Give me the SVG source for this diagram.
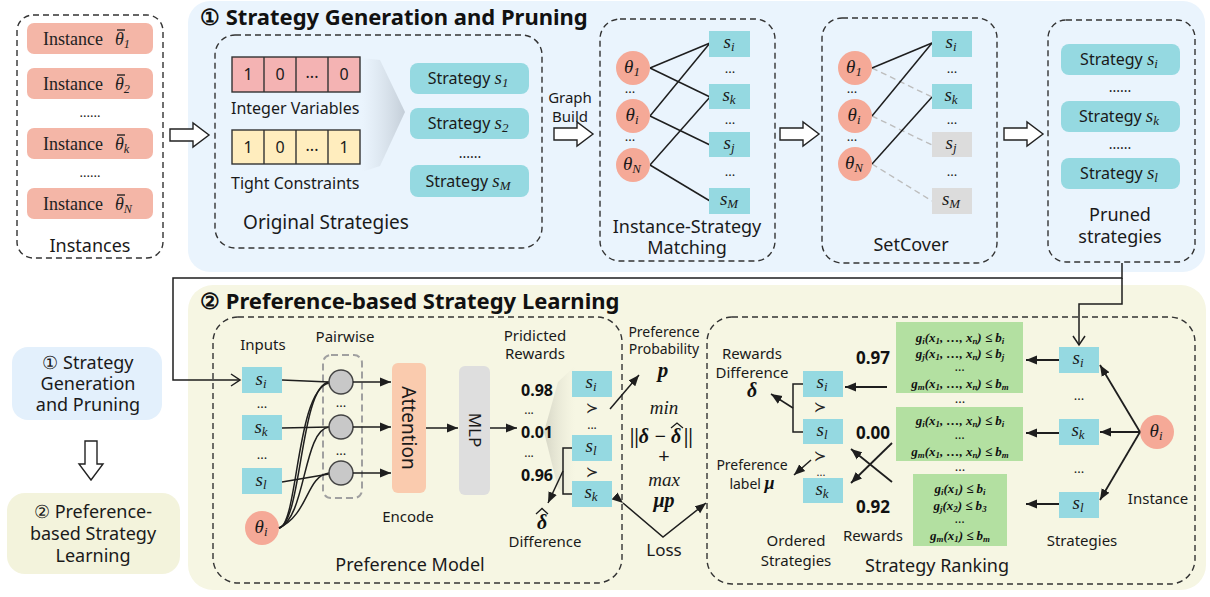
<svg xmlns="http://www.w3.org/2000/svg" width="1210" height="597" viewBox="0 0 1210 597">
  <defs>
    <style>
      .t { font-family: "Noto Sans", "Open Sans", sans-serif; fill: #1a1a1a; }
      .tb { font-family: "Noto Sans", "Open Sans", sans-serif; font-weight: bold; fill: #111; }
      .m { font-family: "Liberation Serif", "DejaVu Serif", serif; font-style: italic; fill: #1a1a1a; }
      .mb { font-family: "Liberation Serif", "DejaVu Serif", serif; font-style: italic; font-weight: bold; fill: #111; }
      .sub { font-size: 68%; baseline-shift: -22%; }
      .dash { fill: none; stroke: #333; stroke-width: 1.4; stroke-dasharray: 6 4; }
      .inst { fill: #F4B6A7; }
      .circ { fill: #F5A997; }
      .cyan { fill: #95D9E1; }
      .grey { fill: #DCDCDC; }
      .green { fill: #B3E0A1; }
      .ln { fill: none; stroke: #1e1e1e; stroke-width: 1.5; }
      .lnd { fill: none; stroke: #bdbdbd; stroke-width: 1.4; stroke-dasharray: 6 4; }
      .hollow { fill: #fff; stroke: #222; stroke-width: 1.4; }
      .accent { fill: none; stroke: #1a1a1a; stroke-width: 1.3; }
    </style>
    <marker id="ahFill" markerUnits="userSpaceOnUse" markerWidth="12" markerHeight="10" refX="11" refY="5" orient="auto">
      <path d="M0,0.5 L11,5 L0,9.5 Z" fill="#1e1e1e"/>
    </marker>
    <marker id="ahOpen" markerUnits="userSpaceOnUse" markerWidth="12" markerHeight="14" refX="10" refY="7" orient="auto">
      <path d="M1,1 L10,7 L1,13" fill="none" stroke="#1e1e1e" stroke-width="1.5"/>
    </marker>
    <path id="hollowR" d="M0,-6 H23 V-12 L39,0 L23,12 V6 H0 Z"/>
    <linearGradient id="fanTop" x1="0" y1="0" x2="1" y2="0">
      <stop offset="0" stop-color="#d4dde6" stop-opacity="0"/>
      <stop offset="1" stop-color="#c4ced8"/>
    </linearGradient>
    <linearGradient id="fanBot" x1="0" y1="0" x2="1" y2="0">
      <stop offset="0" stop-color="#d6d6c6"/>
      <stop offset="1" stop-color="#e8e8d6" stop-opacity="0"/>
    </linearGradient>
  </defs>

  <rect width="1210" height="597" fill="#ffffff"/>

  <!-- stage panels -->
  <g id="panel-stage1">
    <rect x="188" y="1" width="1017" height="271" rx="22" fill="#EAF4FD"/>
    <text class="tb" x="200" y="25" font-size="22">① Strategy Generation and Pruning</text>
  </g>
  <g id="panel-stage2">
    <rect x="188" y="285" width="1018" height="305" rx="25" fill="#F6F6E3"/>
    <text class="tb" x="200" y="309" font-size="22">② Preference-based Strategy Learning</text>
  </g>

  <!-- legend on the left -->
  <g id="legend-stage1">
    <rect x="12" y="347" width="150" height="73" rx="16" fill="#E3F0FC"/>
    <text class="t" font-size="18" text-anchor="middle"><tspan x="88" y="369">① Strategy</tspan><tspan x="88" y="390">Generation</tspan><tspan x="88" y="411">and Pruning</tspan></text>
  </g>
  <g id="legend-stage2">
    <rect x="7" y="493" width="173" height="81" rx="18" fill="#F3F3DC"/>
    <text class="t" font-size="18" text-anchor="middle"><tspan x="93" y="518">② Preference-</tspan><tspan x="93" y="540">based Strategy</tspan><tspan x="93" y="562">Learning</tspan></text>
  </g>

  <!-- instances -->
  <g id="instances">
    <rect class="dash" x="17" y="15" width="146" height="243" rx="16"/>
    <rect class="inst" x="27" y="23" width="126" height="31" rx="7"/>
    <rect class="inst" x="27" y="68" width="126" height="31" rx="7"/>
    <rect class="inst" x="27" y="128" width="126" height="31" rx="7"/>
    <rect class="inst" x="27" y="188" width="126" height="31" rx="7"/>
    <g font-family="Liberation Serif, serif" font-size="18" fill="#222">
      <text x="43" y="45">Instance</text>
      <text x="43" y="90">Instance</text>
      <text x="43" y="150">Instance</text>
      <text x="43" y="210">Instance</text>
      <text x="115" y="45" font-style="italic">θ<tspan class="sub">1</tspan></text>
      <text x="115" y="90" font-style="italic">θ<tspan class="sub">2</tspan></text>
      <text x="115" y="150" font-style="italic">θ<tspan class="sub">k</tspan></text>
      <text x="115" y="210" font-style="italic">θ<tspan class="sub">N</tspan></text>
      <text x="90" y="117" text-anchor="middle" font-size="14">......</text>
      <text x="90" y="177" text-anchor="middle" font-size="14">......</text>
    </g>
    <g class="accent">
      <line x1="117" y1="30" x2="125" y2="30"/>
      <line x1="117" y1="75" x2="125" y2="75"/>
      <line x1="117" y1="135" x2="125" y2="135"/>
      <line x1="117" y1="195" x2="125" y2="195"/>
    </g>
    <text class="t" x="90" y="252" font-size="18" text-anchor="middle">Instances</text>
  </g>

  <!-- original strategies -->
  <g id="original-strategies">
    <rect class="dash" x="215" y="35" width="327" height="213" rx="20"/>
    <polygon points="362,58 380,60 405,112 380,166 362,172" fill="url(#fanTop)"/>
    <g stroke="#333" stroke-width="1.4">
      <rect x="232" y="57" width="128" height="35" fill="#F4B3B3"/>
      <line x1="264" y1="57" x2="264" y2="92"/><line x1="296" y1="57" x2="296" y2="92"/><line x1="328" y1="57" x2="328" y2="92"/>
      <rect x="232" y="130" width="128" height="34" fill="#FFEDBE"/>
      <line x1="264" y1="130" x2="264" y2="164"/><line x1="296" y1="130" x2="296" y2="164"/><line x1="328" y1="130" x2="328" y2="164"/>
    </g>
    <g class="t" font-size="16" text-anchor="middle">
      <text x="248" y="80">1</text><text x="280" y="80">0</text><text x="312" y="78">...</text><text x="344" y="80">0</text>
      <text x="248" y="153">1</text><text x="280" y="153">0</text><text x="312" y="151">...</text><text x="344" y="153">1</text>
    </g>
    <text class="t" x="231" y="114" font-size="16">Integer Variables</text>
    <text class="t" x="231" y="189" font-size="16">Tight Constraints</text>
    <rect class="cyan" x="410" y="63" width="119" height="31" rx="8"/>
    <rect class="cyan" x="410" y="108" width="119" height="31" rx="8"/>
    <rect class="cyan" x="410" y="165" width="119" height="32" rx="8"/>
    <g class="t" font-size="16" text-anchor="middle">
      <text x="468" y="84">Strategy <tspan class="m" font-size="19">s<tspan class="sub">1</tspan></tspan></text>
      <text x="468" y="129">Strategy <tspan class="m" font-size="19">s<tspan class="sub">2</tspan></tspan></text>
      <text x="468" y="187">Strategy <tspan class="m" font-size="19">s<tspan class="sub">M</tspan></tspan></text>
      <text x="470" y="158" font-size="14">......</text>
    </g>
    <text class="t" x="326" y="229" font-size="19" text-anchor="middle">Original Strategies</text>
  </g>

  <text class="t" x="570" y="103" font-size="15" text-anchor="middle">Graph</text>
  <text class="t" x="570" y="122" font-size="15" text-anchor="middle">Build</text>

  <!-- instance-strategy matching -->
  <g id="matching">
    <rect class="dash" x="600" y="19" width="175" height="242" rx="20"/>
    <g class="ln">
      <line x1="650" y1="68" x2="710" y2="43"/>
      <line x1="650" y1="68" x2="710" y2="97"/>
      <line x1="650" y1="116" x2="710" y2="43"/>
      <line x1="650" y1="116" x2="710" y2="145"/>
      <line x1="650" y1="165" x2="710" y2="97"/>
      <line x1="650" y1="165" x2="710" y2="201"/>
    </g>
    <circle class="circ" cx="633" cy="68" r="17"/>
    <circle class="circ" cx="633" cy="116" r="17"/>
    <circle class="circ" cx="633" cy="165" r="17"/>
    <rect class="cyan" x="709" y="31" width="41" height="26"/>
    <rect class="cyan" x="709" y="84" width="41" height="25"/>
    <rect class="cyan" x="709" y="132" width="41" height="25"/>
    <rect class="cyan" x="709" y="188" width="41" height="26"/>
    <g class="m" font-size="19" text-anchor="middle">
      <text x="632" y="73">θ<tspan class="sub">1</tspan></text>
      <text x="632" y="121">θ<tspan class="sub">i</tspan></text>
      <text x="632" y="170">θ<tspan class="sub">N</tspan></text>
      <text x="729" y="48">s<tspan class="sub">i</tspan></text>
      <text x="729" y="101">s<tspan class="sub">k</tspan></text>
      <text x="729" y="149">s<tspan class="sub">j</tspan></text>
      <text x="729" y="205">s<tspan class="sub">M</tspan></text>
    </g>
    <g class="t" font-size="13" text-anchor="middle">
      <text x="630" y="93">...</text><text x="630" y="141">...</text>
      <text x="730" y="73">...</text><text x="730" y="124">...</text><text x="730" y="176">...</text>
    </g>
    <text class="t" font-size="18" text-anchor="middle"><tspan x="687" y="233">Instance-Strategy</tspan><tspan x="687" y="254">Matching</tspan></text>
  </g>

  <!-- set cover -->
  <g id="setcover">
    <rect class="dash" x="822" y="18" width="175" height="245" rx="20"/>
    <g class="lnd">
      <line x1="872" y1="68" x2="932" y2="97"/>
      <line x1="872" y1="116" x2="932" y2="145"/>
      <line x1="872" y1="164" x2="932" y2="201"/>
    </g>
    <g class="ln">
      <line x1="872" y1="68" x2="932" y2="43"/>
      <line x1="872" y1="116" x2="932" y2="43"/>
      <line x1="872" y1="164" x2="932" y2="97"/>
    </g>
    <circle class="circ" cx="855" cy="68" r="17"/>
    <circle class="circ" cx="855" cy="116" r="17"/>
    <circle class="circ" cx="855" cy="164" r="17"/>
    <rect class="cyan" x="932" y="31" width="40" height="26"/>
    <rect class="cyan" x="932" y="84" width="40" height="25"/>
    <rect class="grey" x="932" y="132" width="40" height="25"/>
    <rect class="grey" x="932" y="188" width="40" height="26"/>
    <g class="m" font-size="19" text-anchor="middle">
      <text x="854" y="73">θ<tspan class="sub">1</tspan></text>
      <text x="854" y="121">θ<tspan class="sub">i</tspan></text>
      <text x="854" y="169">θ<tspan class="sub">N</tspan></text>
      <text x="951" y="48">s<tspan class="sub">i</tspan></text>
      <text x="951" y="101">s<tspan class="sub">k</tspan></text>
      <text x="951" y="149">s<tspan class="sub">j</tspan></text>
      <text x="951" y="205">s<tspan class="sub">M</tspan></text>
    </g>
    <g class="t" font-size="13" text-anchor="middle">
      <text x="852" y="93">...</text><text x="852" y="141">...</text>
      <text x="952" y="73">...</text><text x="952" y="124">...</text><text x="952" y="176">...</text>
    </g>
    <text class="t" x="911" y="251" font-size="18" text-anchor="middle">SetCover</text>
  </g>

  <!-- pruned strategies -->
  <g id="pruned">
    <rect class="dash" x="1048" y="20" width="147" height="242" rx="18"/>
    <rect class="cyan" x="1061" y="44" width="119" height="31" rx="8"/>
    <rect class="cyan" x="1061" y="101" width="119" height="31" rx="8"/>
    <rect class="cyan" x="1061" y="158" width="119" height="31" rx="8"/>
    <g class="t" font-size="16" text-anchor="middle">
      <text x="1119" y="65">Strategy <tspan class="m" font-size="19">s<tspan class="sub">i</tspan></tspan></text>
      <text x="1119" y="122">Strategy <tspan class="m" font-size="19">s<tspan class="sub">k</tspan></tspan></text>
      <text x="1119" y="179">Strategy <tspan class="m" font-size="19">s<tspan class="sub">l</tspan></tspan></text>
      <text x="1120" y="92" font-size="14">......</text>
      <text x="1120" y="149" font-size="14">......</text>
    </g>
    <text class="t" font-size="18" text-anchor="middle"><tspan x="1120" y="221">Pruned</tspan><tspan x="1120" y="243">strategies</tspan></text>
  </g>

  <!-- preference model -->
  <g id="preference-model">
    <rect class="dash" x="213" y="317" width="409" height="266" rx="25"/>
    <text class="t" x="263" y="350" font-size="15" text-anchor="middle">Inputs</text>
    <text class="t" x="345" y="342" font-size="15" text-anchor="middle">Pairwise</text>
    <rect class="cyan" x="242" y="367" width="40" height="26"/>
    <rect class="cyan" x="242" y="415" width="40" height="25"/>
    <rect class="cyan" x="242" y="468" width="40" height="26"/>
    <circle class="circ" cx="262" cy="528" r="17"/>
    <rect x="323" y="355" width="39" height="143" rx="8" fill="none" stroke="#a0a0a0" stroke-width="2" stroke-dasharray="7 4"/>
    <g class="ln">
      <line x1="282" y1="380" x2="329" y2="382"/>
      <line x1="282" y1="428" x2="329" y2="427"/>
      <line x1="282" y1="482" x2="329" y2="474"/>
      <path d="M279,528 C302,522 300,386 329,382"/>
      <path d="M279,528 C306,518 303,430 329,427"/>
      <path d="M279,528 C309,514 306,476 329,473"/>
      <path d="M279,528 C298,526 296,390 329,383"/>
    </g>
    <g fill="#C8C8C8" stroke="#444" stroke-width="1.5">
      <circle cx="341" cy="382" r="12"/>
      <circle cx="341" cy="427" r="12"/>
      <circle cx="341" cy="473" r="12"/>
    </g>
    <g class="m" font-size="19" text-anchor="middle">
      <text x="261" y="385">s<tspan class="sub">i</tspan></text>
      <text x="261" y="433">s<tspan class="sub">k</tspan></text>
      <text x="261" y="486">s<tspan class="sub">l</tspan></text>
      <text x="261" y="533">θ<tspan class="sub">i</tspan></text>
    </g>
    <g class="t" font-size="13" text-anchor="middle">
      <text x="262" y="408">...</text><text x="262" y="459">...</text>
      <text x="341" y="407">...</text><text x="341" y="455">...</text>
    </g>
    <rect x="392" y="363" width="34" height="130" rx="6" fill="#FACBAE"/>
    <text class="t" font-size="19" text-anchor="middle" dominant-baseline="central" transform="translate(409,428) rotate(90)">Attention</text>
    <text class="t" x="408" y="522" font-size="15" text-anchor="middle">Encode</text>
    <rect x="459" y="366" width="31" height="129" rx="6" fill="#DEDEDE"/>
    <text class="t" font-size="17" text-anchor="middle" dominant-baseline="central" transform="translate(475,430) rotate(90)">MLP</text>
    <text class="t" font-size="15" text-anchor="middle"><tspan x="535" y="341">Pridicted</tspan><tspan x="535" y="359">Rewards</tspan></text>
    <polygon points="575,366 558,382 544,432 558,488 575,502" fill="url(#fanBot)"/>
    <g class="tb" font-size="16" text-anchor="middle">
      <text x="537" y="396">0.98</text>
      <text x="537" y="438">0.01</text>
      <text x="537" y="481">0.96</text>
    </g>
    <g class="t" font-size="12" text-anchor="middle">
      <text x="529" y="414">...</text><text x="529" y="457">...</text>
      <text x="592" y="429">...</text>
    </g>
    <rect class="cyan" x="572" y="371" width="40" height="26"/>
    <rect class="cyan" x="572" y="435" width="40" height="26"/>
    <rect class="cyan" x="572" y="481" width="40" height="26"/>
    <g class="m" font-size="19" text-anchor="middle">
      <text x="591" y="388">s<tspan class="sub">i</tspan></text>
      <text x="591" y="452">s<tspan class="sub">l</tspan></text>
      <text x="591" y="498">s<tspan class="sub">k</tspan></text>
    </g>
    <g font-family="DejaVu Sans, sans-serif" font-size="15" fill="#222" text-anchor="middle">
      <text x="592" y="413">≻</text>
      <text x="592" y="477">≻</text>
    </g>
    <text class="mb" x="542" y="529" font-size="20" text-anchor="middle">δ</text>
    <polyline class="accent" points="536,514 542,508.5 548,514"/>
    <text class="t" x="545" y="547" font-size="15" text-anchor="middle">Difference</text>
    <text class="t" x="410" y="571" font-size="18" text-anchor="middle">Preference Model</text>
  </g>

  <!-- loss -->
  <g id="loss">
    <text class="t" font-size="14" text-anchor="middle"><tspan x="664" y="337">Preference</tspan><tspan x="664" y="354">Probability</tspan></text>
    <text class="mb" x="663" y="377" font-size="21" text-anchor="middle">p</text>
    <text class="m" x="664" y="414" font-size="19" text-anchor="middle">min</text>
    <g class="mb" font-size="20">
      <text x="630" y="443">||δ −</text>
      <text x="671" y="443">δ</text>
      <text x="684" y="443">||</text>
    </g>
    <polyline class="accent" points="671,428 677,423 683,428"/>
    <text class="t" x="664" y="463" font-size="20" text-anchor="middle">+</text>
    <text class="m" x="664" y="486" font-size="19" text-anchor="middle">max</text>
    <text class="mb" x="664" y="507" font-size="20" text-anchor="middle">μp</text>
    <text class="t" x="664" y="556" font-size="17" text-anchor="middle">Loss</text>
  </g>

  <!-- strategy ranking -->
  <g id="strategy-ranking">
    <rect class="dash" x="707" y="317" width="488" height="267" rx="25"/>
    <text class="t" font-size="15" text-anchor="middle"><tspan x="752" y="359">Rewards</tspan><tspan x="752" y="378">Difference</tspan></text>
    <text class="mb" x="752" y="397" font-size="20" text-anchor="middle">δ</text>
    <text class="t" font-size="14" text-anchor="middle"><tspan x="752" y="470">Preference</tspan><tspan x="752" y="489">label <tspan class="mb" font-size="18">μ</tspan></tspan></text>
    <rect class="cyan" x="803" y="371" width="40" height="26"/>
    <rect class="cyan" x="803" y="419" width="40" height="25"/>
    <rect class="cyan" x="803" y="478" width="40" height="25"/>
    <g class="m" font-size="19" text-anchor="middle">
      <text x="822" y="388">s<tspan class="sub">i</tspan></text>
      <text x="822" y="436">s<tspan class="sub">l</tspan></text>
      <text x="822" y="495">s<tspan class="sub">k</tspan></text>
    </g>
    <g font-family="DejaVu Sans, sans-serif" font-size="15" fill="#222" text-anchor="middle">
      <text x="820" y="412">≻</text>
      <text x="820" y="461">≻</text>
    </g>
    <text class="t" x="821" y="476" font-size="11" text-anchor="middle">...</text>
    <g class="tb" font-size="17" text-anchor="middle">
      <text x="873" y="364">0.97</text>
      <text x="873" y="439">0.00</text>
      <text x="873" y="513">0.92</text>
    </g>
    <text class="t" x="873" y="541" font-size="15" text-anchor="middle">Rewards</text>
    <text class="t" font-size="15" text-anchor="middle"><tspan x="796" y="546">Ordered</tspan><tspan x="796" y="566">Strategies</tspan></text>

    <rect class="green" x="896" y="322" width="127" height="71"/>
    <rect class="green" x="896" y="407" width="127" height="54"/>
    <rect class="green" x="913" y="474" width="94" height="72"/>
    <g class="mb" font-size="13" text-anchor="middle">
      <text x="960" y="342">g<tspan class="sub">i</tspan>(x<tspan class="sub">1</tspan>, …, x<tspan class="sub">n</tspan>) ≤ b<tspan class="sub">i</tspan></text>
      <text x="960" y="358">g<tspan class="sub">j</tspan>(x<tspan class="sub">1</tspan>, …, x<tspan class="sub">n</tspan>) ≤ b<tspan class="sub">j</tspan></text>
      <text x="960" y="371" font-size="10">…</text>
      <text x="960" y="388">g<tspan class="sub">m</tspan>(x<tspan class="sub">1</tspan>, …, x<tspan class="sub">n</tspan>) ≤ b<tspan class="sub">m</tspan></text>
      <text x="960" y="425">g<tspan class="sub">i</tspan>(x<tspan class="sub">1</tspan>, …, x<tspan class="sub">n</tspan>) ≤ b<tspan class="sub">i</tspan></text>
      <text x="960" y="439" font-size="10">…</text>
      <text x="960" y="456">g<tspan class="sub">m</tspan>(x<tspan class="sub">1</tspan>, …, x<tspan class="sub">n</tspan>) ≤ b<tspan class="sub">m</tspan></text>
      <text x="960" y="493">g<tspan class="sub">i</tspan>(x<tspan class="sub">1</tspan>) ≤ b<tspan class="sub">i</tspan></text>
      <text x="960" y="510">g<tspan class="sub">j</tspan>(x<tspan class="sub">2</tspan>) ≤ b<tspan class="sub">3</tspan></text>
      <text x="960" y="523" font-size="10">…</text>
      <text x="960" y="540">g<tspan class="sub">m</tspan>(x<tspan class="sub">1</tspan>) ≤ b<tspan class="sub">m</tspan></text>
    </g>
    <g class="t" font-size="13" text-anchor="middle">
      <text x="960" y="403">...</text><text x="960" y="471">...</text>
      <text x="1079" y="400">...</text><text x="1079" y="473">...</text>
    </g>
    <rect class="cyan" x="1059" y="347" width="40" height="26"/>
    <rect class="cyan" x="1059" y="419" width="40" height="26"/>
    <rect class="cyan" x="1059" y="492" width="40" height="26"/>
    <circle class="circ" cx="1157" cy="432" r="17"/>
    <g class="m" font-size="19" text-anchor="middle">
      <text x="1078" y="364">s<tspan class="sub">i</tspan></text>
      <text x="1078" y="436">s<tspan class="sub">k</tspan></text>
      <text x="1078" y="509">s<tspan class="sub">l</tspan></text>
      <text x="1156" y="437">θ<tspan class="sub">i</tspan></text>
    </g>
    <text class="t" x="1158" y="504" font-size="15" text-anchor="middle">Instance</text>
    <text class="t" x="1082" y="546" font-size="15" text-anchor="middle">Strategies</text>
    <text class="t" x="937" y="572" font-size="18" text-anchor="middle">Strategy Ranking</text>
  </g>

  <!-- connectors -->
  <g id="connectors">
    <use href="#hollowR" class="hollow" transform="translate(170,135)"/>
    <use href="#hollowR" class="hollow" transform="translate(554,134)"/>
    <use href="#hollowR" class="hollow" transform="translate(780,134)"/>
    <use href="#hollowR" class="hollow" transform="translate(1004,134)"/>
    <use href="#hollowR" class="hollow" transform="translate(91,441) rotate(90)"/>

    <g class="ln">
      <polyline points="1122,263 1122,278 173,278 173,380 240,380" marker-end="url(#ahOpen)"/>
      <polyline points="1122,278 1122,304 1079,304 1079,345" marker-end="url(#ahOpen)"/>
    </g>
    <g class="ln" stroke-width="1.4">
      <line x1="353" y1="382" x2="391" y2="382" marker-end="url(#ahFill)"/>
      <line x1="353" y1="427" x2="391" y2="427" marker-end="url(#ahFill)"/>
      <line x1="353" y1="473" x2="391" y2="473" marker-end="url(#ahFill)"/>
      <line x1="426" y1="428" x2="458" y2="428" marker-end="url(#ahFill)"/>
      <line x1="490" y1="428" x2="517" y2="428" marker-end="url(#ahFill)"/>
      <polyline points="572,448 563,448 563,494 572,494"/>
      <line x1="563" y1="471" x2="548" y2="503" marker-end="url(#ahFill)"/>
      <line x1="610" y1="409" x2="639" y2="375" marker-end="url(#ahFill)"/>
      <polyline points="623,503 663,537 706,503" marker-start="url(#ahFill)" marker-end="url(#ahFill)"/>
      <polyline points="803,384 793,384 793,432 803,432"/>
      <line x1="793" y1="408" x2="771" y2="394" marker-end="url(#ahFill)"/>
      <line x1="811" y1="460" x2="794" y2="475" marker-end="url(#ahFill)"/>
      <line x1="887" y1="387" x2="845" y2="387" marker-end="url(#ahFill)" stroke-width="1.8"/>
      <line x1="892" y1="443" x2="851" y2="483" marker-end="url(#ahFill)" stroke-width="1.8"/>
      <line x1="892" y1="482" x2="851" y2="449" marker-end="url(#ahFill)" stroke-width="1.8"/>
      <line x1="1059" y1="360" x2="1026" y2="360" marker-end="url(#ahFill)" stroke-width="1.8"/>
      <line x1="1059" y1="433" x2="1026" y2="433" marker-end="url(#ahFill)" stroke-width="1.8"/>
      <line x1="1059" y1="504" x2="1026" y2="504" marker-end="url(#ahFill)" stroke-width="1.8"/>
      <line x1="1140" y1="432" x2="1100" y2="365" marker-end="url(#ahFill)" stroke-width="1.8"/>
      <line x1="1140" y1="432" x2="1100" y2="432" marker-end="url(#ahFill)" stroke-width="1.8"/>
      <line x1="1140" y1="432" x2="1100" y2="500" marker-end="url(#ahFill)" stroke-width="1.8"/>
    </g>
  </g>
</svg>
